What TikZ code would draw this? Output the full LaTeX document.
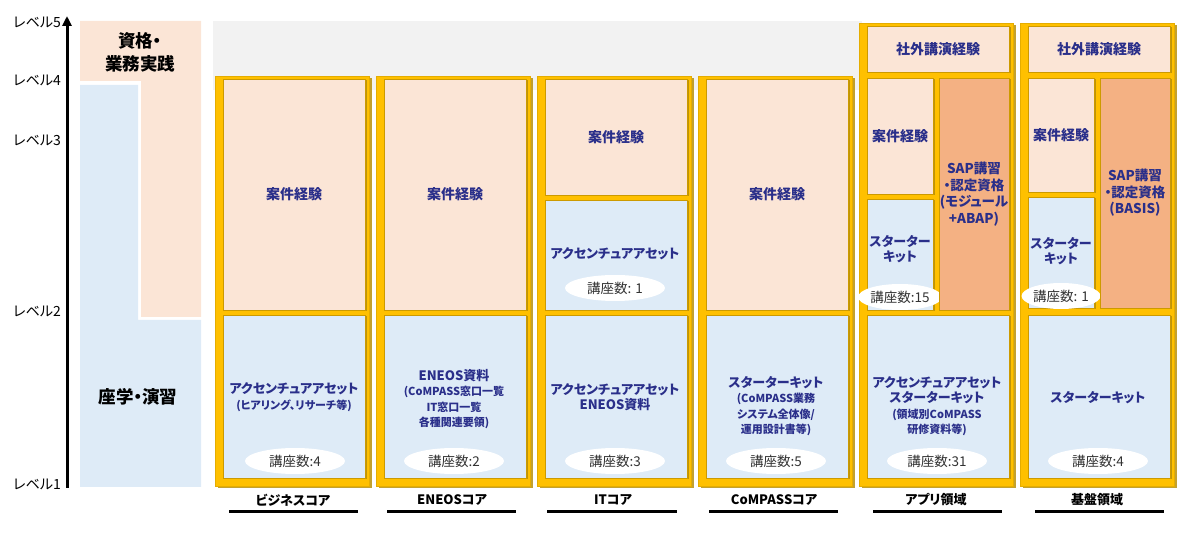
\documentclass[tikz,border=0pt]{standalone}
\usepackage{fontspec}
\setmainfont{Noto Sans CJK JP}[RawFeature=+palt]
\usetikzlibrary{arrows.meta,shapes.geometric,shadows}
\definecolor{peach}{HTML}{FBE5D6}
\definecolor{paleblue}{HTML}{DEEBF7}
\definecolor{saporange}{HTML}{F4B183}
\definecolor{gold}{HTML}{FFC000}
\definecolor{darkgold}{HTML}{B8900A}
\definecolor{bggrey}{HTML}{F2F2F2}
\definecolor{navy}{HTML}{2A2F8A}
\newcommand{\subfont}{\fontsize{11}{14.5}\selectfont}
\tikzset{
      colframe/.style={
        fill=gold,
        draw=gold!90!black,
        line width=0.5pt,
        minimum width=154,
        drop shadow={shadow xshift=2.5pt,shadow yshift=-2.5pt,fill=darkgold,opacity=0.85}
      },
      innerbox/.style={
        draw=gold!80!black,
        line width=0.4pt,
        inner sep=0pt,
        align=center,
        text=navy,
        font=\fontsize{14}{16.5}\selectfont\bfseries,
        drop shadow={shadow xshift=1.5pt,shadow yshift=-1.5pt,fill=darkgold,opacity=0.9}
      },
      expbox/.style={innerbox, fill=peach},
      matbox/.style={innerbox, fill=paleblue, minimum width=142, minimum height=163},
      sapbox/.style={innerbox, fill=saporange, font=\fontsize{13.5}{16.5}\selectfont\bfseries},
      maintext/.style={align=center, text=navy, inner sep=0pt, font=\fontsize{13}{15.5}\selectfont\bfseries},
      countoval/.style={ellipse, fill=white, minimum width=100, minimum height=26, inner sep=0pt, font=\fontsize{13.5}{15}\selectfont, text=black!80},
      levellabel/.style={anchor=east, inner sep=0pt, font=\fontsize{14}{15}\selectfont},
      sidetext/.style={align=center, inner sep=0pt, font=\fontsize{17.5}{23}\selectfont\bfseries},
      collabel/.style={inner sep=0pt, font=\fontsize{13}{15}\selectfont\bfseries},
      colrule/.style={line width=3pt}
    }
\begin{document}
\begin{tikzpicture}[x=1pt,y=-1pt]
    \useasboundingbox (0,0) rectangle (1200,534);
    \fill[bggrey] (213,21) rectangle (862,90);
    \fill[peach] (80,21) -- (201,21) -- (201,317) -- (141,317) -- (141,81) -- (80,81) -- cycle;
    \fill[paleblue] (80,85) -- (138,85) -- (138,320) -- (201,320) -- (201,487) -- (80,487) -- cycle;
    \node[sidetext] (qual) at (140,52) {資格・\\業務実践};
    \node[sidetext] (study) at (138,397) {座学・演習};
    \coordinate (axbot) at (67,488);
    \coordinate (axtop) at (67,16);
    \draw[line width=3pt, -{Triangle[length=10pt,width=9pt]}] (axbot) -- (axtop);
    \node[levellabel] (lv5) at (61,22) {レベル5};
    \node[levellabel] (lv4) at (61,80) {レベル4};
    \node[levellabel] (lv3) at (61,140) {レベル3};
    \node[levellabel] (lv2) at (61,311) {レベル2};
    \node[levellabel] (lv1) at (61,484) {レベル1};
    \node[colframe, minimum height=410] (c1) at (292,281) {};
    \node[colframe, minimum height=410] (c2) at (453,281) {};
    \node[colframe, minimum height=410] (c3) at (614,281) {};
    \node[colframe, minimum height=410] (c4) at (775,281) {};
    \node[colframe, minimum height=463] (c5) at (936,254.5) {};
    \node[colframe, minimum height=463] (c6) at (1097,254.5) {};
    \node[expbox, minimum width=142, minimum height=231] (c1exp) at (294,194.5) {案件経験};
    \node[matbox] (c1mat) at (294,396.5) {};
    \node[maintext] (c1txt) at (294,397) {アクセンチュアアセット\\{\subfont (ヒアリング、リサーチ等)}};
    \node[countoval] (c1cnt) at (295,461) {講座数:4};
    \node[expbox, minimum width=142, minimum height=231] (c2exp) at (455,194.5) {案件経験};
    \node[matbox] (c2mat) at (455,396.5) {};
    \node[maintext] (c2txt) at (454,399) {ENEOS資料\\{\subfont (CoMPASS窓口一覧}\\{\subfont IT窓口一覧}\\{\subfont 各種関連要領)}};
    \node[countoval] (c2cnt) at (454,461) {講座数:2};
    \node[expbox, minimum width=142, minimum height=116] (c3exp) at (616,137) {案件経験};
    \node[matbox, minimum height=110] (c3top) at (616,255) {};
    \node[maintext] (c3toptxt) at (615,254) {アクセンチュアアセット};
    \node[countoval] (c3topcnt) at (615,288) {講座数: 1};
    \node[matbox] (c3mat) at (616,396.5) {};
    \node[maintext] (c3txt) at (615,397) {アクセンチュアアセット\\ENEOS資料};
    \node[countoval] (c3cnt) at (615,461) {講座数:3};
    \node[expbox, minimum width=142, minimum height=231] (c4exp) at (777,194.5) {案件経験};
    \node[matbox] (c4mat) at (777,396.5) {};
    \node[maintext] (c4txt) at (776,406) {スターターキット\\{\subfont (CoMPASS業務}\\{\subfont システム全体像/}\\{\subfont 運用設計書等)}};
    \node[countoval] (c4cnt) at (776,461) {講座数:5};
    \node[expbox, minimum width=142, minimum height=46] (c5talk) at (938,49) {社外講演経験};
    \node[expbox, minimum width=66, minimum height=116] (c5exp) at (900,136) {案件経験};
    \node[matbox, minimum width=66, minimum height=111] (c5kit) at (900,254.5) {};
    \node[maintext] (c5kittxt) at (900,249) {スターター\\キット};
    \node[countoval, minimum width=66] (c5kitcnt) at (900,297) {講座数:15};
    \node[sapbox, minimum width=70, minimum height=232] (c5sap) at (974,194) {SAP講習\\・認定資格\\(モジュール\\+ABAP)};
    \node[matbox] (c5mat) at (938,396.5) {};
    \node[maintext] (c5txt) at (937,406) {アクセンチュアアセット\\スターターキット\\{\subfont (領域別CoMPASS}\\{\subfont 研修資料等)}};
    \node[countoval] (c5cnt) at (937,461) {講座数:31};
    \node[expbox, minimum width=142, minimum height=46] (c6talk) at (1099,49) {社外講演経験};
    \node[expbox, minimum width=66, minimum height=114] (c6exp) at (1061,135) {案件経験};
    \node[matbox, minimum width=66, minimum height=111] (c6kit) at (1061,252.5) {};
    \node[maintext] (c6kittxt) at (1061,251) {スターター\\キット};
    \node[countoval, minimum width=66] (c6kitcnt) at (1061,296) {講座数: 1};
    \node[sapbox, minimum width=70, minimum height=230] (c6sap) at (1135,193) {SAP講習\\・認定資格\\(BASIS)};
    \node[matbox] (c6mat) at (1099,396.5) {};
    \node[maintext] (c6txt) at (1098,398) {スターターキット};
    \node[countoval] (c6cnt) at (1098,461) {講座数:4};
    \node[collabel] (c1lab) at (293,500) {ビジネスコア};
    \node[collabel] (c2lab) at (452,500) {ENEOSコア};
    \node[collabel] (c3lab) at (613,500) {ITコア};
    \node[collabel] (c4lab) at (774,500) {CoMPASSコア};
    \node[collabel] (c5lab) at (936,500) {アプリ領域};
    \node[collabel] (c6lab) at (1097,500) {基盤領域};
    \draw[colrule] (229,511) -- (358,511);
    \draw[colrule] (387,511) -- (516,511);
    \draw[colrule] (547,511) -- (677,511);
    \draw[colrule] (709,511) -- (838,511);
    \draw[colrule] (873,511) -- (1002,511);
    \draw[colrule] (1035,511) -- (1164,511);
    \end{tikzpicture}
\end{document}
